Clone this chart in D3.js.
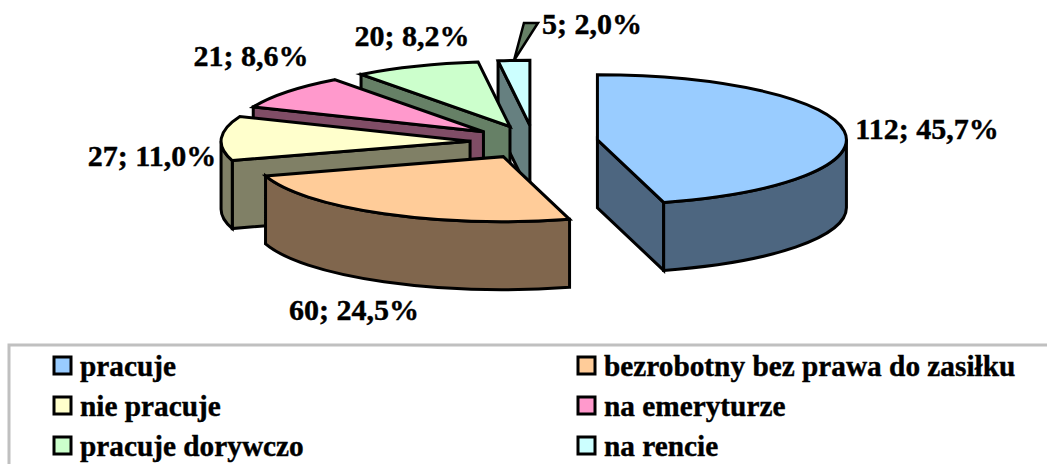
<!DOCTYPE html>
<html>
<head>
<meta charset="utf-8">
<script src="https://cdn.jsdelivr.net/npm/d3@7"></script>
<style>
html, body { margin: 0; padding: 0; background: #fff; overflow: hidden; }
text { font-family: "Liberation Serif", serif; font-weight: bold; fill: #000; stroke: #000; stroke-width: 0.4px; }
</style>
</head>
<body>
<svg id="graph1"></svg>
<script>
var categories = ["pracuje", "bezrobotny bez prawa do zasiłku", "nie pracuje", "na emeryturze", "pracuje dorywczo", "na rencie"]
var counts = [112, 60, 27, 21, 20, 5]
var percents = ["45,7%", "24,5%", "11,0%", "8,6%", "8,2%", "2,0%"]
var colors = ["#99ccff", "#ffcc99", "#ffffcc", "#ff99cc", "#ccffcc", "#ccffff"]

var screen = {width:1047, height:464}
var center = {x:534, y:142}
var rx = 249, ry = 65, depth = 68, explode = 64

// where each label sits, same order as categories
var labelPos = [[927,139],[354,320],[152,166],[251,66],[412,46],[592,34]]

var svg = d3.select("#graph1")
    .attr("width", screen.width)
    .attr("height", screen.height)

var slices = d3.pie().sort(null)(counts).map(function(d, i){
    var mid = (d.startAngle + d.endAngle) / 2
    d.name = categories[i]
    d.mid = mid
    d.color = colors[i]
    d.cx = center.x + explode * Math.sin(mid)
    d.cy = center.y - explode * (ry / rx) * Math.cos(mid)
    return d
})

var rim = function(d, a){
    return [d.cx + rx * Math.sin(a), d.cy - ry * Math.cos(a)]
}

var topFace = function(d){
    var p0 = rim(d, d.startAngle), p1 = rim(d, d.endAngle)
    return "M" + d.cx + "," + d.cy + "L" + p0 + "A" + rx + "," + ry + " 0 0 1 " + p1 + "Z"
}

var outerWall = function(d){
    var a0 = Math.max(d.startAngle, Math.PI / 2)
    var a1 = Math.min(d.endAngle, 3 * Math.PI / 2)
    if (a1 <= a0) return null
    var p0 = rim(d, a0), p1 = rim(d, a1)
    return "M" + p0 + "A" + rx + "," + ry + " 0 0 1 " + p1 +
        "L" + p1[0] + "," + (p1[1] + depth) +
        "A" + rx + "," + ry + " 0 0 0 " + p0[0] + "," + (p0[1] + depth) + "Z"
}

var cutWall = function(d, a){
    var p = rim(d, a)
    return "M" + d.cx + "," + d.cy + "L" + p + "L" + p[0] + "," + (p[1] + depth) +
        "L" + d.cx + "," + (d.cy + depth) + "Z"
}

// back to front
var order = slices.slice().sort(function(a, b){ return Math.cos(b.mid) - Math.cos(a.mid) })

var pie = svg.append("g").attr("class", "pie")
    .attr("stroke", "#000")
    .attr("stroke-width", 3)
    .attr("stroke-linejoin", "miter")

var shade = function(c){ return d3.interpolateRgb(c, "#000")(0.5) }

order.forEach(function(d){
    var g = pie.append("g")
    // the start edge faces us on the left half, the end edge on the right half
    if (Math.sin(d.startAngle) < -0.001)
        g.append("path").attr("d", cutWall(d, d.startAngle)).attr("fill", shade(d.color))
    if (Math.sin(d.endAngle) > 0.001)
        g.append("path").attr("d", cutWall(d, d.endAngle)).attr("fill", shade(d.color))
    var w = outerWall(d)
    if (w) g.append("path").attr("d", w).attr("fill", shade(d.color))
    g.append("path").attr("d", topFace(d)).attr("fill", d.color)
})

// leader line of the smallest slice
var small = slices[5]
var tip = rim(small, small.mid)
pie.append("path")
    .attr("d", "M" + tip + "L" + (tip[0] + 10) + ",23L" + (tip[0] + 24) + ",23Z")
    .attr("fill", shade(colors[4]))
    .attr("stroke-width", 2.5)

svg.append("g").selectAll("text")
    .data(slices)
    .enter()
    .append("text")
    .attr("x", function(d, i){ return labelPos[i][0] })
    .attr("y", function(d, i){ return labelPos[i][1] })
    .attr("text-anchor", "middle")
    .attr("font-size", 30)
    .text(function(d, i){ return d.value + "; " + percents[i] })

// legend
svg.append("rect")
    .attr("x", 9).attr("y", 345)
    .attr("width", 1100).attr("height", 200)
    .attr("fill", "none")
    .attr("stroke", "#c0c0c0")
    .attr("stroke-width", 3)

var legendX = d3.scalePoint().domain([0, 1]).range([53, 577])
var legendY = d3.scalePoint().domain([0, 1, 2]).range([356, 436])

var legend = svg.append("g").selectAll("g")
    .data(slices)
    .enter()
    .append("g")
    .attr("transform", function(d, i){
        return "translate(" + legendX(i % 2) + "," + legendY(Math.floor(i / 2)) + ")"
    })

legend.append("rect")
    .attr("x", 1).attr("y", 1)
    .attr("width", 17).attr("height", 17)
    .attr("fill", function(d){ return d.color })
    .attr("stroke", "#000")
    .attr("stroke-width", 3)

legend.append("text")
    .attr("x", 27)
    .attr("y", 20)
    .attr("font-size", 29.3)
    .text(function(d){ return d.name })
</script>
</body>
</html>
